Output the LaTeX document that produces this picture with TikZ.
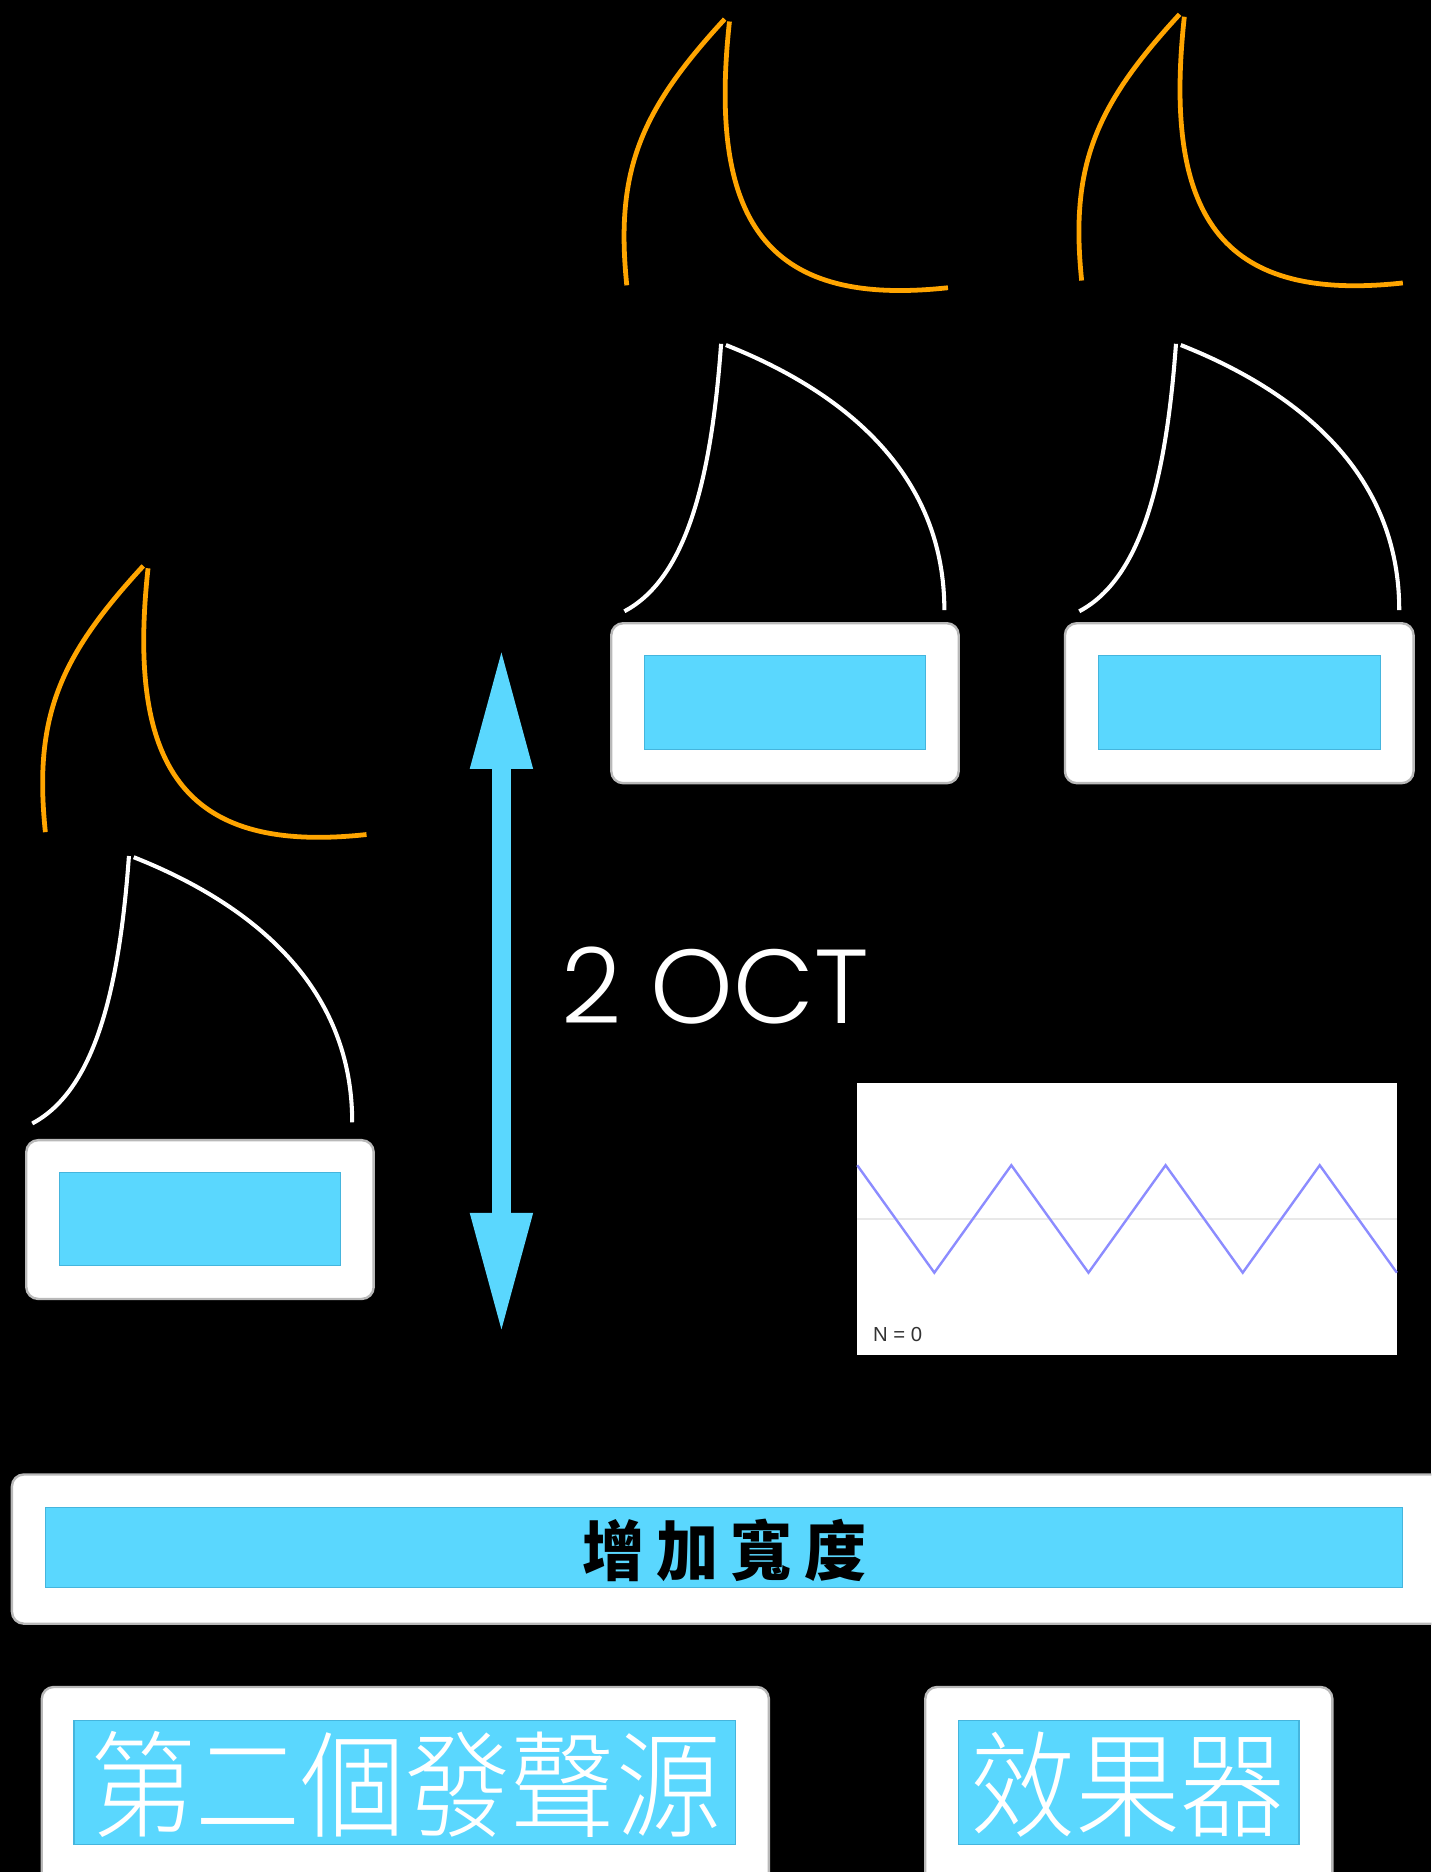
\documentclass[tikz,border=0pt]{standalone}
\usepackage{fontspec}
\usetikzlibrary{arrows.meta}
\newfontfamily\octfont{Poppins Light}
\newfontfamily\cjkfont{Noto Sans CJK TC Light}
\newfontfamily\cjkbold{Noto Sans CJK TC Black}
\newfontfamily\labfont{Liberation Sans}
\definecolor{skyb}{HTML}{5AD7FE}
\definecolor{skyedge}{HTML}{45B5DD}
\definecolor{orng}{HTML}{FFA500}
\definecolor{wavec}{HTML}{8C8CFF}
\begin{document}
\begin{tikzpicture}[x=0.5pt,y=-0.5pt,
  outerbox/.style={draw=gray!55, line width=1pt, fill=white, rounded corners=5pt, inner sep=0pt},
  innerbox/.style={draw=skyedge, line width=0.5pt, fill=skyb, inner sep=0pt},
  orangeline/.style={orng, line width=2pt},
  whiteline/.style={white, line width=1.7pt},
  orangecurve/.pic={
    \draw[orangeline] (-82,223) .. controls (-92,126) and (-70,76) .. (0,0);
    \draw[orangeline] (4,2) .. controls (-15,176) and (40,241) .. (187,225);
  },
  whitecurve/.pic={
    \draw[whiteline] (-81,224) .. controls (-28,196) and (-8,110) .. (0,0);
    \draw[whiteline] (4,1) .. controls (90,35) and (187,100) .. (187,223);
  }]
\useasboundingbox (0,0) rectangle (1199,1568);
\clip (0,0) rectangle (1199,1568);
\fill[black] (0,0) rectangle (1199,1568);

% curves
\pic at (120,474) {orangecurve};
\pic at (607,16) {orangecurve};
\pic at (988,12) {orangecurve};
\pic at (108,717) {whitecurve};
\pic at (604,288) {whitecurve};
\pic at (985,288) {whitecurve};

% small boxes
\node[outerbox, minimum width=291*0.5pt, minimum height=133*0.5pt] (boxL) at (167.5,1021.5) {};
\node[innerbox, minimum width=235*0.5pt, minimum height=78*0.5pt] (barL) at (167.5,1021) {};
\node[outerbox, minimum width=291*0.5pt, minimum height=134*0.5pt] (boxM) at (657.5,589) {};
\node[innerbox, minimum width=235*0.5pt, minimum height=79*0.5pt] (barM) at (657.5,588.5) {};
\node[outerbox, minimum width=292*0.5pt, minimum height=134*0.5pt] (boxR) at (1038,589) {};
\node[innerbox, minimum width=236*0.5pt, minimum height=79*0.5pt] (barR) at (1038,588.5) {};

% arrow
\coordinate (atop) at (420,542);
\coordinate (abot) at (420,1118);
\draw[skyb, line width=8pt, {Triangle[length=51pt,width=24pt]}-{Triangle[length=51pt,width=24pt]}] (atop) -- (abot);

\node[anchor=base west, inner sep=0pt, text=white, font=\octfont\fontsize{44pt}{50pt}\selectfont] (oct) at (470,857) {2 OCT};

% graph
\fill[white] (718,907) rectangle (1170,1135);
\draw[gray!18, line width=0.6pt] (718,1021) -- (1170,1021);
\draw[wavec, line width=1pt] (718,976) -- (782.6,1066) -- (847.1,976) -- (911.7,1066) -- (976.3,976) -- (1040.9,1066) -- (1105.4,976) -- (1170,1066);
\node[anchor=base west, inner sep=0pt, text=black!80, font=\labfont\fontsize{8.5pt}{10pt}\selectfont] (nlab) at (731,1124) {N = 0};

% wide box
\node[outerbox, minimum width=1200*0.5pt, minimum height=125*0.5pt] (boxW) at (610,1297.5) {};
\node[innerbox, minimum width=1137*0.5pt, minimum height=67*0.5pt] (barW) at (606.5,1296.5) {};
\node[inner sep=0pt, text=black, font=\cjkbold\fontsize{26pt}{30pt}\selectfont] (tW) at (606.5,1299) {\scalebox{1}[1.05]{增\hspace{5pt}加\hspace{5pt}寬\hspace{5pt}度}};

% bottom boxes
\node[outerbox, minimum width=609*0.5pt, minimum height=190*0.5pt] (boxA) at (339.5,1508) {};
\node[innerbox, minimum width=554*0.5pt, minimum height=104*0.5pt] (barA) at (339,1493) {};
\node[inner sep=0pt, text=white, font=\cjkfont\fontsize{44pt}{50pt}\selectfont] (tA) at (340,1495) {\scalebox{1}[1.1]{第二個發聲源}};
\node[outerbox, minimum width=341*0.5pt, minimum height=190*0.5pt] (boxB) at (945.5,1508) {};
\node[innerbox, minimum width=285*0.5pt, minimum height=104*0.5pt] (barB) at (945.5,1493) {};
\node[inner sep=0pt, text=white, font=\cjkfont\fontsize{44pt}{50pt}\selectfont] (tB) at (944.5,1495) {\scalebox{1}[1.1]{效果器}};
\end{tikzpicture}
\end{document}
